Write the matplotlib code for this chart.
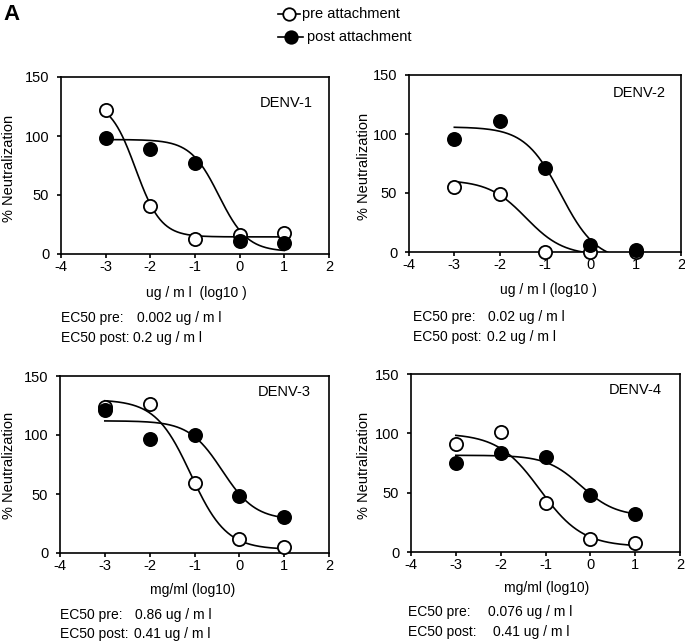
import numpy as np
import matplotlib
matplotlib.use("Agg")
import matplotlib.pyplot as plt
from matplotlib.lines import Line2D

plt.rcParams['font.family'] = ['Liberation Sans', 'DejaVu Sans']

# ---------------- data ----------------
doses = [-3, -2, -1, 0, 1]          # log10 concentration
x_ticks = [-4, -3, -2, -1, 0, 1, 2]
y_ticks = [0, 50, 100, 150]
serotypes = ['DENV-1', 'DENV-2', 'DENV-3', 'DENV-4']

pre_d1 = [122, 41, 13, 16, 17.5]
post_d1 = [98, 89, 77, 11, 9.5]
pre_d2 = [55.3, 49.3, 0, 0, 0]
post_d2 = [95.6, 111, 70.8, 5.6, 1.4]
pre_d3 = [123.8, 126, 59, 12, 4.8]
post_d3 = [121, 96.5, 99.6, 48, 30.4]
pre_d4 = [90.8, 101.5, 41.4, 10.7, 7.3]
post_d4 = [74.7, 83.5, 80.3, 47.9, 31.9]

# fitted 4-parameter logistic curves: (top, bottom, logEC50, hill)
pre_fit_d1 = (130, 14.5, -2.33, 1.525)
post_fit_d1 = (97, 2, -0.465, 1.358)
pre_fit_d2 = (61, -3, -1.42, 1.05)
post_fit_d2 = (106, -8, -0.653, 1.097)
pre_fit_d3 = (130, 3, -1.08, 1.1)
post_fit_d3 = (112, 28, -0.384, 1.171)
pre_fit_d4 = (100, 4.5, -1.119, 0.923)
post_fit_d4 = (81.5, 30, -0.208, 1.122)

xlabels = ['ug / m l  (log10 )', 'ug / m l (log10 )', 'mg/ml (log10)', 'mg/ml (log10)']
ec50_pre = ['0.002 ug / m l', '0.02 ug / m l', '0.86 ug / m l', '0.076 ug / m l']
ec50_post = ['0.2 ug / m l', '0.2 ug / m l', '0.41 ug / m l', '0.41 ug / m l']

pre_all = [pre_d1, pre_d2, pre_d3, pre_d4]
post_all = [post_d1, post_d2, post_d3, post_d4]
pre_fits = [pre_fit_d1, pre_fit_d2, pre_fit_d3, pre_fit_d4]
post_fits = [post_fit_d1, post_fit_d2, post_fit_d3, post_fit_d4]

# ---------------- layout (pixels) ----------------
W, H = 685, 642
fig = plt.figure(figsize=(W / 100, H / 100), dpi=100)

def fx(px):
    return px / W

def fy(py):
    return 1 - py / H

boxes = [(61, 329, 77, 254), (409, 681, 75, 252), (60, 329, 376, 553), (411, 680, 374, 552)]
denv_pos = [(260, 102.7), (612.7, 93.3), (258, 392.3), (609, 390)]
xlab_pos = [(196.7, 293), (548, 290), (193, 590), (547, 588.3)]
ylab_pos = [(9.2, 168.3), (364, 166), (9.2, 465.8), (364, 465)]
ec_rows = [(61, 136.7, 132.7, 318, 338), (413, 488.3, 486.7, 316.7, 336.7),
           (60, 135, 134, 615, 634), (408, 488.3, 492.7, 611.7, 631.7)]

FS = 10.5
FS_SMALL = 10
LW = 1.2


def logistic(x, p):
    top, bottom, c, h = p
    return bottom + (top - bottom) / (1 + 10 ** ((x - c) * h))


xs = np.linspace(-3, 1, 300)

for i in range(4):
    l, r, t, b = boxes[i]
    ax = fig.add_axes([fx(l), fy(b), fx(r - l), (b - t) / H])
    ax.plot(xs, logistic(xs, pre_fits[i]), color='black', lw=LW, zorder=2)
    ax.plot(xs, logistic(xs, post_fits[i]), color='black', lw=LW, zorder=2)
    ax.plot(doses, pre_all[i], 'o', ms=9.5, mfc='white', mec='black', mew=1.3,
            zorder=3, clip_on=False)
    ax.plot(doses, post_all[i], 'o', ms=9.5, mfc='black', mec='black', mew=1.3,
            zorder=4, clip_on=False)
    ax.set_xlim(-4, 2)
    ax.set_ylim(0, 150)
    ax.set_xticks(x_ticks)
    ax.set_yticks(y_ticks)
    ax.set_xticklabels([str(v) for v in x_ticks])
    ax.tick_params(direction='out', length=3, width=LW, labelsize=FS, color='black')
    ax.tick_params(axis='x', pad=1.5)
    ax.tick_params(axis='y', pad=5.5)
    for s in ax.spines.values():
        s.set_linewidth(LW)
    # axis labels
    ax.set_xlabel(xlabels[i], fontsize=FS_SMALL, va='center', ha='center')
    xc, yc = xlab_pos[i]
    ax.xaxis.set_label_coords((xc - l) / (r - l), (b - yc) / (b - t))
    ax.set_ylabel('% Neutralization', fontsize=FS, va='center', ha='center')
    xc, yc = ylab_pos[i]
    ax.yaxis.set_label_coords((xc - l) / (r - l), (b - yc) / (b - t))
    # serotype label
    dx, dy = denv_pos[i]
    fig.text(fx(dx), fy(dy), serotypes[i], fontsize=FS, ha='left', va='center')
    # EC50 text
    x0, xv1, xv2, y1, y2 = ec_rows[i]
    fig.text(fx(x0), fy(y1), 'EC50 pre:', fontsize=FS_SMALL, ha='left', va='center')
    fig.text(fx(xv1), fy(y1), ec50_pre[i], fontsize=FS_SMALL, ha='left', va='center')
    fig.text(fx(x0), fy(y2), 'EC50 post:', fontsize=FS_SMALL, ha='left', va='center')
    fig.text(fx(xv2), fy(y2), ec50_post[i], fontsize=FS_SMALL, ha='left', va='center')

# panel letter
fig.text(fx(3), fy(15), 'A', fontsize=16, fontweight='bold', ha='left', va='center')

# legend
legend_rows = [('pre attachment', 'white', 278, 300, 289, 302, 14),
               ('post attachment', 'black', 278, 303, 291, 306.7, 36.5)]
for label, face, xa, xb, xm, xt, yy in legend_rows:
    fig.add_artist(Line2D([fx(xa), fx(xb)], [fy(yy), fy(yy)], transform=fig.transFigure,
                          color='black', lw=LW))
    fig.add_artist(Line2D([fx(xm)], [fy(yy)], transform=fig.transFigure, marker='o',
                          ms=9, mfc=face, mec='black', mew=1.3, lw=0))
    fig.text(fx(xt), fy(yy), label, fontsize=FS, ha='left', va='center')

fig.savefig('out.png', dpi=100)
